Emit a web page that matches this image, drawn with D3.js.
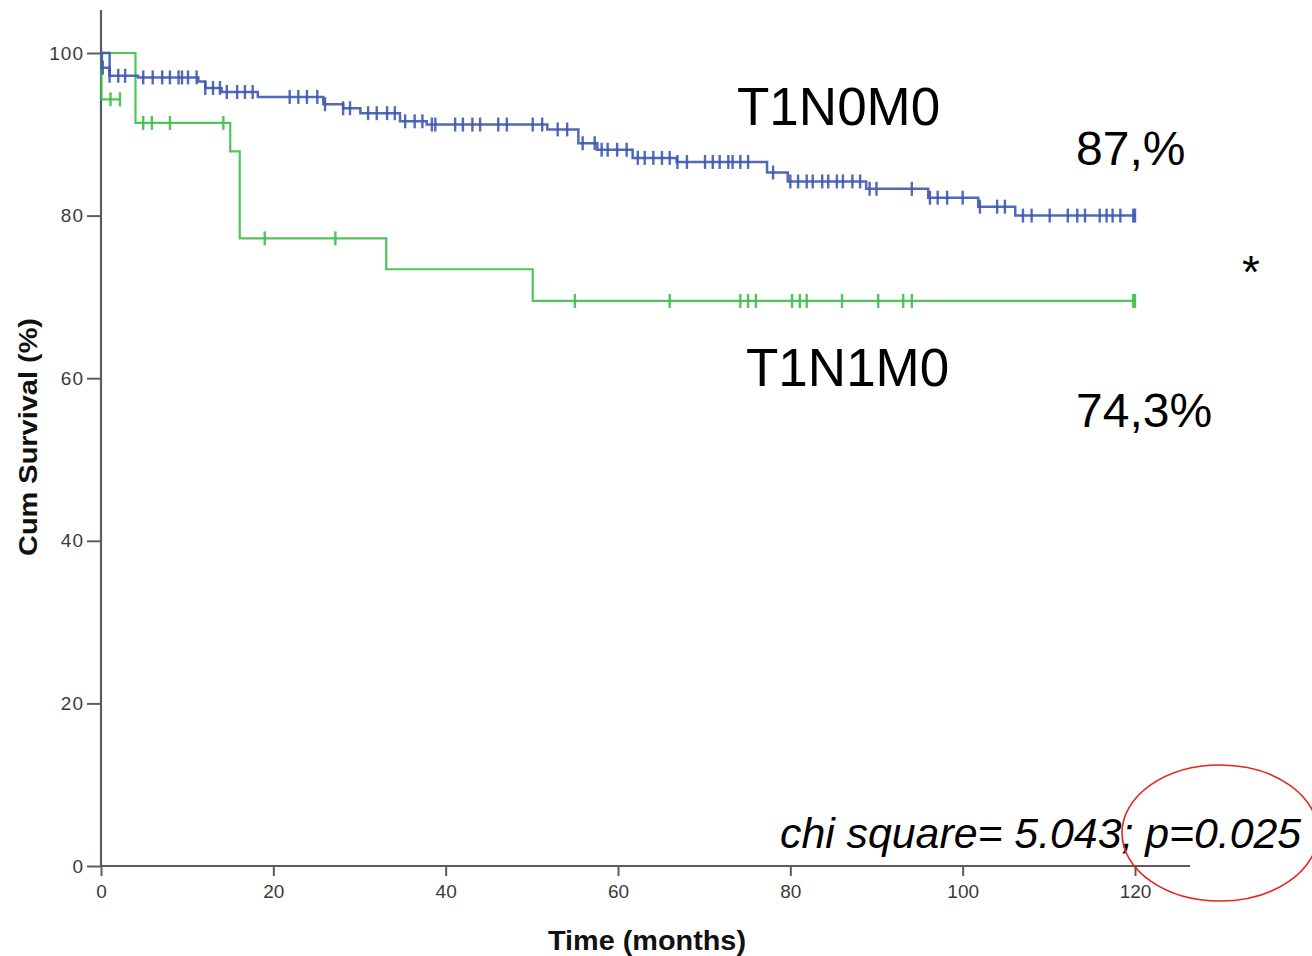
<!DOCTYPE html>
<html>
<head>
<meta charset="utf-8">
<script src="https://cdn.jsdelivr.net/npm/d3@7"></script>
<style>
  html, body { margin: 0; padding: 0; background: #fff; }
  svg { display: block; }
</style>
</head>
<body>
<svg id="chart" width="1312" height="956"></svg>
<script>
// Kaplan–Meier survival by stage group (months, cumulative survival %)
const xTicks = [0, 20, 40, 60, 80, 100, 120];
const yTicks = [0, 20, 40, 60, 80, 100];

// T1N0M0: step start times and survival after each step
const n0Times = [0, 0.1, 1.0, 4.3, 11.3, 12.1, 14.0, 18.2, 25.8, 28.1, 30.1, 34.7, 37.8, 51.8, 55.4, 57.6, 61.7, 66.8, 77.3, 79.7, 88.8, 96.0, 101.8, 106.1];
const n0Surv  = [100, 98.2, 97.2, 97.0, 96.5, 95.7, 95.2, 94.6, 93.7, 93.2, 92.6, 91.6, 91.2, 90.6, 88.9, 88.1, 87.1, 86.6, 85.3, 84.2, 83.3, 82.2, 81.1, 80.0];
const n0End = 120;
const n0Censored = [0.2, 1.0, 2.0, 2.8, 4.9, 6.0, 7.1, 8.0, 9.0, 9.4, 10.1, 11.1, 12.1, 13.0, 13.8, 14.6, 15.8, 16.7, 17.6,
  21.9, 22.9, 23.9, 25.1, 26.0, 28.1, 28.9, 31.0, 32.0, 33.2, 34.1, 35.3, 36.4, 37.3, 38.4, 38.8, 41.1, 42.0, 43.1, 44.0,
  46.1, 47.1, 50.1, 51.2, 53.0, 54.1, 55.9, 57.3, 58.1, 58.8, 59.9, 61.0, 62.3, 63.1, 64.1, 65.1, 66.0, 66.9, 68.0, 70.1,
  71.0, 71.8, 72.8, 73.3, 74.2, 75.1, 78.0, 80.0, 80.9, 81.9, 82.6, 83.7, 84.4, 85.4, 86.1, 87.2, 88.1, 89.2, 90.0, 94.1,
  96.2, 97.1, 98.2, 100.0, 102.0, 104.0, 104.9, 107.0, 108.0, 110.1, 112.2, 113.3, 114.2, 115.9, 116.7, 117.4, 118.3, 119.8, 120.0];

// small early T1N0M0 segment
const n0bTimes = [0, 1.0];
const n0bSurv  = [100, 97.2];
const n0bEnd = 1.0;
const n0bCensored = [];

// T1N1M0
const n1Times = [0, 4.0, 15.0, 16.1, 33.1, 50.1];
const n1Surv  = [100, 91.4, 87.9, 77.2, 73.4, 69.5];
const n1End = 120;
const n1Censored = [4.9, 5.9, 8.0, 14.2, 19.0, 27.2, 55.0, 66.0, 74.2, 75.1, 76.0, 80.2, 81.1, 81.9, 86.0, 90.2, 93.1, 94.1, 119.8, 120.0];

// small early T1N1M0 segment
const n1bTimes = [0, 0.05];
const n1bSurv  = [100, 94.3];
const n1bEnd = 2.3;
const n1bCensored = [1.1, 2.2];

const groupLabels = ["T1N0M0", "T1N1M0"];
const rateLabels = ["87,%", "74,3%"];
const testText = "chi square= 5.043; p=0.025";

const BLUE = "#3f58b0";
const GREEN = "#3cbf4a";

const svg = d3.select("#chart");

const x = d3.scaleLinear().domain([0, 120]).range([101, 1135]);
const y = d3.scaleLinear().domain([0, 100]).range([866, 53]);

// axes
const axisColor = "#5c5c5c";
const yAxis = svg.append("g").attr("transform", "translate(101,0)")
  .call(d3.axisLeft(y).tickValues(yTicks).tickSize(14).tickPadding(3));
yAxis.select(".domain").remove();
yAxis.selectAll(".tick line").attr("stroke", axisColor).attr("stroke-width", 2);
yAxis.selectAll(".tick text").attr("fill", "#3a3a3a")
  .style("font-family", "Liberation Sans, Arial, sans-serif").style("font-size", "19px").style("letter-spacing", "1px");

const xAxis = svg.append("g").attr("transform", "translate(0,866)")
  .call(d3.axisBottom(x).tickValues(xTicks).tickSize(10).tickPadding(9));
xAxis.select(".domain").remove();
xAxis.selectAll(".tick line").attr("stroke", axisColor).attr("stroke-width", 2);
xAxis.selectAll(".tick text").attr("fill", "#3a3a3a")
  .style("font-family", "Liberation Sans, Arial, sans-serif").style("font-size", "19px");

svg.append("line").attr("x1", 101).attr("x2", 101).attr("y1", 10).attr("y2", 867)
  .attr("stroke", axisColor).attr("stroke-width", 2.2);
svg.append("line").attr("x1", 100).attr("x2", 1190).attr("y1", 866).attr("y2", 866)
  .attr("stroke", axisColor).attr("stroke-width", 2.2);

// axis titles
svg.append("text")
  .attr("transform", "translate(37,437) rotate(-90)")
  .attr("text-anchor", "middle")
  .attr("textLength", 238).attr("lengthAdjust", "spacingAndGlyphs")
  .style("font-family", "Liberation Sans, Arial, sans-serif").style("font-weight", "bold").style("font-size", "25px")
  .attr("fill", "#111")
  .text("Cum Survival (%)");
svg.append("text")
  .attr("x", 647).attr("y", 950)
  .attr("text-anchor", "middle")
  .attr("textLength", 198).attr("lengthAdjust", "spacingAndGlyphs")
  .style("font-family", "Liberation Sans, Arial, sans-serif").style("font-weight", "bold").style("font-size", "27px")
  .attr("fill", "#111")
  .text("Time (months)");

// step curve helpers
function survAt(times, surv, t) {
  let v = surv[0];
  for (let i = 0; i < times.length; i++) if (times[i] <= t) v = surv[i];
  return v;
}
function stepPoints(times, surv, end) {
  const pts = times.map((t, i) => [t, surv[i]]);
  pts.push([end, surv[surv.length - 1]]);
  return pts;
}
const line = d3.line().x(d => x(d[0])).y(d => y(d[1])).curve(d3.curveStepAfter);

function drawCurve(times, surv, end, censored, color, width) {
  const g = svg.append("g");
  g.append("path")
    .datum(stepPoints(times, surv, end))
    .attr("d", line)
    .attr("fill", "none")
    .attr("stroke", color)
    .attr("stroke-width", width)
    .attr("stroke-opacity", 0.9);
  g.selectAll("line.cens")
    .data(censored)
    .join("line")
    .attr("class", "cens")
    .attr("x1", d => x(d)).attr("x2", d => x(d))
    .attr("y1", d => y(survAt(times, surv, d)) - 7)
    .attr("y2", d => y(survAt(times, surv, d)) + 7)
    .attr("stroke", color)
    .attr("stroke-width", 2.4)
    .attr("stroke-opacity", 0.9);
}

drawCurve(n1Times, n1Surv, n1End, n1Censored, GREEN, 2.2);
drawCurve(n1bTimes, n1bSurv, n1bEnd, n1bCensored, GREEN, 2.2);
drawCurve(n0bTimes, n0bSurv, n0bEnd, n0bCensored, BLUE, 2.5);
drawCurve(n0Times, n0Surv, n0End, n0Censored, BLUE, 2.5);

// annotations
const font = "Liberation Sans, Arial, sans-serif";
svg.append("text").attr("x", 737).attr("y", 125)
  .style("font-family", font).style("font-size", "53px").attr("fill", "#000").text(groupLabels[0]);
svg.append("text").attr("x", 746).attr("y", 386)
  .style("font-family", font).style("font-size", "53px").attr("fill", "#000").text(groupLabels[1]);
svg.append("text").attr("x", 1076).attr("y", 165)
  .style("font-family", font).style("font-size", "48px").attr("fill", "#000").text(rateLabels[0]);
svg.append("text").attr("x", 1076).attr("y", 427)
  .style("font-family", font).style("font-size", "48px").attr("fill", "#000").text(rateLabels[1]);
svg.append("text").attr("x", 1242).attr("y", 288)
  .style("font-family", font).style("font-size", "46px").attr("fill", "#000").text("*");

svg.append("text").attr("x", 780).attr("y", 848)
  .style("font-family", font).style("font-style", "italic").style("font-size", "42.8px")
  .attr("fill", "#000").text(testText);

// highlight around the p-value
svg.append("ellipse")
  .attr("cx", 1220).attr("cy", 833).attr("rx", 98).attr("ry", 68)
  .attr("fill", "none").attr("stroke", "#e8231c").attr("stroke-width", 1.6);
</script>
</body>
</html>
